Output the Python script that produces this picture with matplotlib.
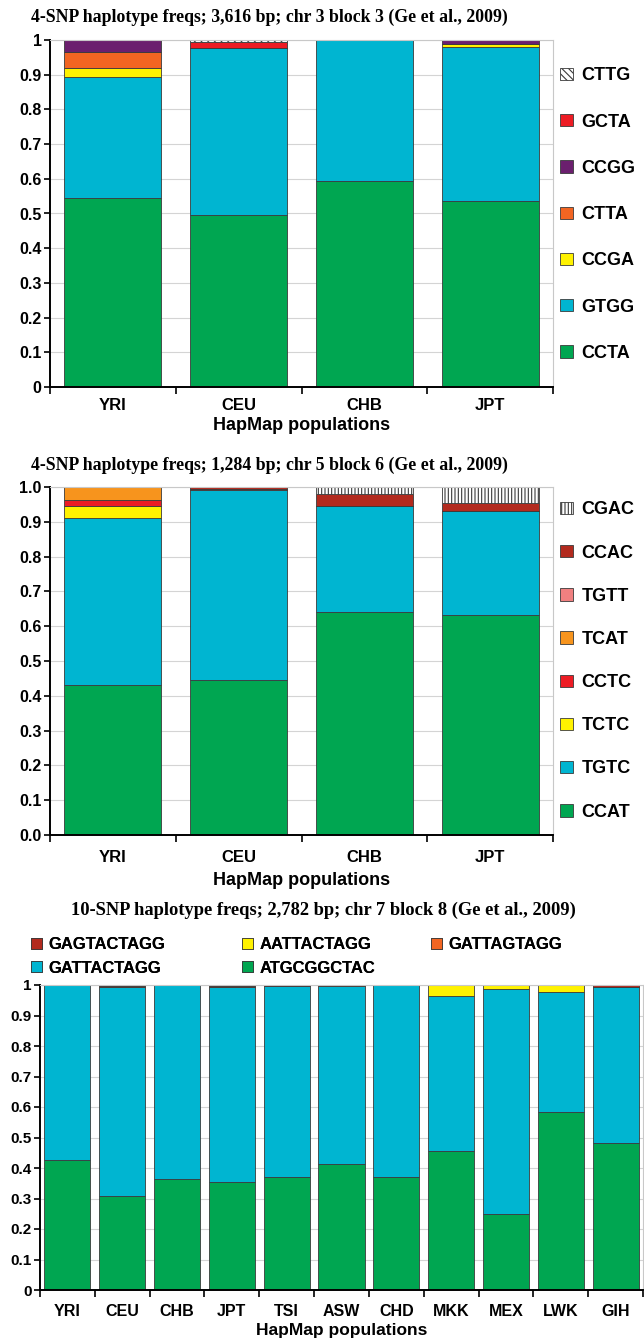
import numpy as np
import matplotlib
matplotlib.use('Agg')
import matplotlib.pyplot as plt
from matplotlib.patches import Patch
from matplotlib.ticker import MultipleLocator, FixedLocator, FixedFormatter

plt.rcParams['font.family'] = 'Liberation Sans'
plt.rcParams['font.weight'] = 'bold'
plt.rcParams['hatch.linewidth'] = 0.8

# populations
pops4 = ['YRI', 'CEU', 'CHB', 'JPT']
pops11 = ['YRI', 'CEU', 'CHB', 'JPT', 'TSI', 'ASW', 'CHD', 'MKK', 'MEX', 'LWK', 'GIH']

# chr 3 block 3 haplotype freqs (bottom to top)
b3_names = ['CCTA', 'GTGG', 'CCGA', 'CTTA', 'CCGG', 'GCTA', 'CTTG']
b3_ccta = [0.545, 0.495, 0.595, 0.537]
b3_gtgg = [0.347, 0.483, 0.405, 0.442]
b3_ccga = [0.026, 0.0, 0.0, 0.009]
b3_ctta = [0.048, 0.0, 0.0, 0.0]
b3_ccgg = [0.034, 0.0, 0.0, 0.012]
b3_gcta = [0.0, 0.017, 0.0, 0.0]
b3_cttg = [0.0, 0.005, 0.0, 0.0]

# chr 5 block 6
b6_names = ['CCAT', 'TGTC', 'TCTC', 'CCTC', 'TCAT', 'TGTT', 'CCAC', 'CGAC']
b6_ccat = [0.430, 0.445, 0.641, 0.632]
b6_tgtc = [0.482, 0.545, 0.305, 0.300]
b6_tctc = [0.034, 0.0, 0.0, 0.0]
b6_cctc = [0.017, 0.0, 0.0, 0.0]
b6_tcat = [0.037, 0.0, 0.0, 0.0]
b6_tgtt = [0.0, 0.003, 0.0, 0.0]
b6_ccac = [0.0, 0.007, 0.035, 0.023]
b6_cgac = [0.0, 0.0, 0.019, 0.045]

# chr 7 block 8
b8_names = ['ATGCGGCTAC', 'GATTACTAGG', 'AATTACTAGG', 'GATTAGTAGG', 'GAGTACTAGG']
b8_atgc = [0.426, 0.308, 0.364, 0.354, 0.370, 0.413, 0.372, 0.456, 0.249, 0.584, 0.482]
b8_gattac = [0.574, 0.687, 0.636, 0.641, 0.626, 0.584, 0.628, 0.509, 0.738, 0.394, 0.513]
b8_aatt = [0.0, 0.0, 0.0, 0.0, 0.0, 0.001, 0.0, 0.035, 0.013, 0.022, 0.0]
b8_gattag = [0.0, 0.003, 0.0, 0.002, 0.002, 0.002, 0.0, 0.0, 0.0, 0.0, 0.0]
b8_gagt = [0.0, 0.002, 0.0, 0.003, 0.002, 0.0, 0.0, 0.0, 0.0, 0.0, 0.005]

GREEN = '#00A651'
TEAL = '#00B5D1'
YELLOW = '#FFF200'
EDGE = '#3A3A3A'

styles3 = [
    dict(color=GREEN), dict(color=TEAL), dict(color=YELLOW),
    dict(color='#F26522'), dict(color='#6B1F6E'), dict(color='#ED1C24'),
    dict(color='white', hatch='\\\\\\\\\\'),
]
styles6 = [
    dict(color=GREEN), dict(color=TEAL), dict(color=YELLOW),
    dict(color='#ED1C24'), dict(color='#F7941D'), dict(color='#F08080'),
    dict(color='#B22A1E'), dict(color='white', hatch='|||||'),
]
styles8 = [
    dict(color=GREEN), dict(color=TEAL), dict(color=YELLOW),
    dict(color='#F26522'), dict(color='#B22A1E'),
]

W, H = 644, 1339


def stacked(ax, pops, series, styles, width):
    x = np.arange(len(pops))
    bottom = np.zeros(len(pops))
    handles = []
    for vals, st in zip(series, styles):
        vals = np.array(vals)
        ax.bar(x, vals, width, bottom=bottom, color=st['color'],
               hatch=st.get('hatch'), edgecolor=EDGE, linewidth=0.6, zorder=2)
        bottom += vals
        handles.append(Patch(facecolor=st['color'], hatch=st.get('hatch'),
                             edgecolor=EDGE, linewidth=0.6))
    return handles


def style_axes(ax, pops, fmt, tick_fs, label_fs, xpad, lpad):
    n = len(pops)
    ax.set_xlim(-0.5, n - 0.5)
    ax.set_ylim(0, 1)
    ax.yaxis.set_major_locator(MultipleLocator(0.1))
    ax.yaxis.set_major_formatter(fmt)
    ax.grid(axis='y', color='#D4D4D4', linewidth=0.8, zorder=0)
    ax.set_axisbelow(True)
    # tick marks on category boundaries, names at centres
    ax.xaxis.set_major_locator(FixedLocator(np.arange(n + 1) - 0.5))
    ax.xaxis.set_major_formatter(FixedFormatter([''] * (n + 1)))
    ax.xaxis.set_minor_locator(FixedLocator(np.arange(n)))
    ax.xaxis.set_minor_formatter(FixedFormatter(pops))
    ax.tick_params(axis='x', which='major', direction='out', length=5, width=1.2)
    ax.tick_params(axis='x', which='minor', length=0, pad=xpad, labelsize=tick_fs)
    ax.tick_params(axis='y', direction='out', length=4, width=1.2, labelsize=tick_fs - 0.5,
                   pad=2)
    for s in ['left', 'bottom']:
        ax.spines[s].set_linewidth(1.4)
        ax.spines[s].set_color('black')
    for s in ['top', 'right']:
        ax.spines[s].set_color('#C8C8C8')
        ax.spines[s].set_linewidth(0.8)
    ax.set_xlabel('HapMap populations', fontsize=label_fs, fontweight='bold', labelpad=lpad)


def side_legend(ax, handles, names, spacing, yc):
    ax.legend(handles[::-1], names[::-1], loc='center left', bbox_to_anchor=(1.0, yc),
              frameon=False, fontsize=13, handlelength=0.68, handleheight=0.68,
              handletextpad=0.5, labelspacing=spacing, borderaxespad=0.0)


fig = plt.figure(figsize=(W / 100, H / 100), dpi=100)
title_kw = dict(fontfamily='Liberation Serif', fontweight='bold', ha='center', va='center')

# --- chr 3 block 3 ---
ax1 = fig.add_axes([50 / W, 1 - 387 / H, 503 / W, 347 / H])
h1 = stacked(ax1, pops4, [b3_ccta, b3_gtgg, b3_ccga, b3_ctta, b3_ccgg, b3_gcta, b3_cttg],
             styles3, 0.77)
style_axes(ax1, pops4, lambda v, p: f'{v:g}', 12, 13, 8, 3)
side_legend(ax1, h1, b3_names, 1.62, 0.497)
fig.text(269 / W, 1 - 17 / H, '4-SNP haplotype freqs; 3,616 bp; chr 3 block 3 (Ge et al., 2009)',
         fontsize=12.8, **title_kw)

# --- chr 5 block 6 ---
ax2 = fig.add_axes([50 / W, 1 - 835 / H, 503 / W, 348 / H])
h2 = stacked(ax2, pops4, [b6_ccat, b6_tgtc, b6_tctc, b6_cctc, b6_tcat, b6_tgtt, b6_ccac, b6_cgac],
             styles6, 0.77)
style_axes(ax2, pops4, lambda v, p: f'{v:.1f}', 12, 13, 11, 5)
side_legend(ax2, h2, b6_names, 1.45, 0.5)
fig.text(269 / W, 1 - 465 / H, '4-SNP haplotype freqs; 1,284 bp; chr 5 block 6 (Ge et al., 2009)',
         fontsize=12.8, **title_kw)

# --- chr 7 block 8 ---
ax3 = fig.add_axes([40 / W, 1 - 1290 / H, 603 / W, 305 / H])
h3 = stacked(ax3, pops11, [b8_atgc, b8_gattac, b8_aatt, b8_gattag, b8_gagt],
             styles8, 0.84)
style_axes(ax3, pops11, lambda v, p: f'{v:g}', 11.5, 12.5, 10, 3)
fig.text(323 / W, 1 - 910 / H, '10-SNP haplotype freqs; 2,782 bp; chr 7 block 8 (Ge et al., 2009)',
         fontsize=13.3, **title_kw)

# legend laid out as three separate columns
cols = [([4, 1], 31), ([2, 0], 242), ([3], 431)]
for idx, xpix in cols:
    leg = fig.legend([h3[i] for i in idx], [b8_names[i] for i in idx],
                     loc='upper left', bbox_to_anchor=(xpix / W, 1 - 937 / H),
                     frameon=False, fontsize=12, handlelength=0.65, handleheight=0.65,
                     handletextpad=0.4, labelspacing=0.52, borderpad=0.0,
                     borderaxespad=0.0)
    fig.add_artist(leg)

fig.savefig('out.png', dpi=100)
